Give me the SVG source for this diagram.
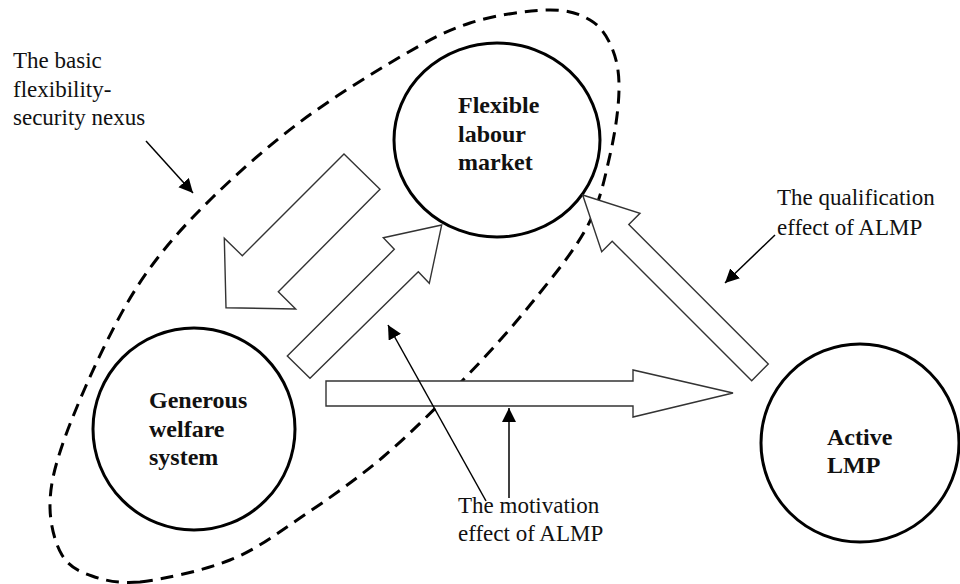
<svg xmlns="http://www.w3.org/2000/svg" width="960" height="584" viewBox="0 0 960 584">
  <defs>
    <marker id="head" markerUnits="userSpaceOnUse" markerWidth="15" markerHeight="15" refX="14" refY="7" orient="auto">
      <path d="M0,0 L14,7 L0,14 Z" fill="#000"/>
    </marker>
    <style>
      .node { fill: #fff; stroke: #000; stroke-width: 3; }
      .nexus { fill: none; stroke: #000; stroke-width: 3; stroke-dasharray: 13 8; }
      .flow { fill: #fff; stroke: #333; stroke-width: 1.4; stroke-linejoin: miter; }
      .ptr { fill: none; stroke: #000; stroke-width: 1.5; marker-end: url(#head); }
      .lbl { font-family: "Liberation Serif", "Times New Roman", serif; font-size: 23px; fill: #111; }
      .ntx { font-family: "Liberation Serif", "Times New Roman", serif; font-size: 24px; font-weight: bold; fill: #111; }
    </style>
  </defs>
  <rect width="960" height="584" fill="#fff"/>

  <g id="nexus-boundary">
    <path class="nexus" d="M140,582 C163,579.33 203.33,570.67 230,560 C256.67,549.33 274.5,535.17 300,518 C325.5,500.83 355.83,480 383,457 C410.17,434 438.5,405.33 463,380 C487.5,354.67 509.33,330.5 530,305 C550.67,279.5 573.67,252 587,227 C600.33,202 604.67,177.83 610,155 C615.33,132.17 618.67,107.83 619,90 C619.33,72.17 616.83,59.67 612,48 C607.17,36.33 600.83,26.33 590,20 C579.17,13.67 567,9.5 547,10 C527,10.5 494.5,15.17 470,23 C445.5,30.83 428.33,40.5 400,57 C371.67,73.5 331.17,98.67 300,122 C268.83,145.33 238,172.67 213,197 C188,221.33 168,243.33 150,268 C132,292.67 119.5,315.83 105,345 C90.5,374.17 72.17,416.33 63,443 C53.83,469.67 50.17,486.33 50,505 C49.83,523.67 55,543.17 62,555 C69,566.83 79,571.5 92,576 C105,580.5 117,583.5 140,582 Z"/>
  </g>

  <g id="node-flexible">
    <ellipse class="node" cx="497" cy="140" rx="103" ry="97"/>
    <text class="ntx" x="458" y="113">Flexible</text>
    <text class="ntx" x="458" y="142">labour</text>
    <text class="ntx" x="458" y="170">market</text>
  </g>

  <g id="node-generous">
    <circle class="node" cx="194" cy="429" r="101"/>
    <text class="ntx" x="149" y="408">Generous</text>
    <text class="ntx" x="149" y="437">welfare</text>
    <text class="ntx" x="149" y="465">system</text>
  </g>

  <g id="node-active">
    <circle class="node" cx="860" cy="443" r="99"/>
    <text class="ntx" x="827" y="445">Active</text>
    <text class="ntx" x="827" y="473">LMP</text>
  </g>

  <g id="connectors">
    <polygon class="flow" points="344,154 380,189.3 278.3,291.7 295.7,309 226,307.7 224.3,238.3 242.3,255.7"/>
    <polygon class="flow" points="287.3,356 310,378.3 418.3,271.7 429.3,283.3 441.7,225 383.3,237.7 394.3,249.3"/>
    <polygon class="flow" points="326,381 633,381 633,370 733,393 633,417 633,406 326,406"/>
    <polygon class="flow" points="582.7,195 640,213.3 628.8,224.5 768.3,364 751.7,380.7 612.2,241.2 601.7,251.7"/>
    <line class="ptr" x1="146" y1="141" x2="193" y2="193"/>
    <line class="ptr" x1="775" y1="235" x2="725" y2="283"/>
    <line class="ptr" x1="486" y1="501" x2="388" y2="325"/>
    <line class="ptr" x1="509" y1="498" x2="509" y2="408"/>
  </g>

  <g id="labels">
    <text class="lbl" x="13" y="68">The basic</text>
    <text class="lbl" x="13" y="97">flexibility-</text>
    <text class="lbl" x="13" y="125">security nexus</text>
    <text class="lbl" x="777" y="205">The qualification</text>
    <text class="lbl" x="777" y="235">effect of ALMP</text>
    <text class="lbl" x="458" y="513">The motivation</text>
    <text class="lbl" x="458" y="541">effect of ALMP</text>
  </g>
</svg>
